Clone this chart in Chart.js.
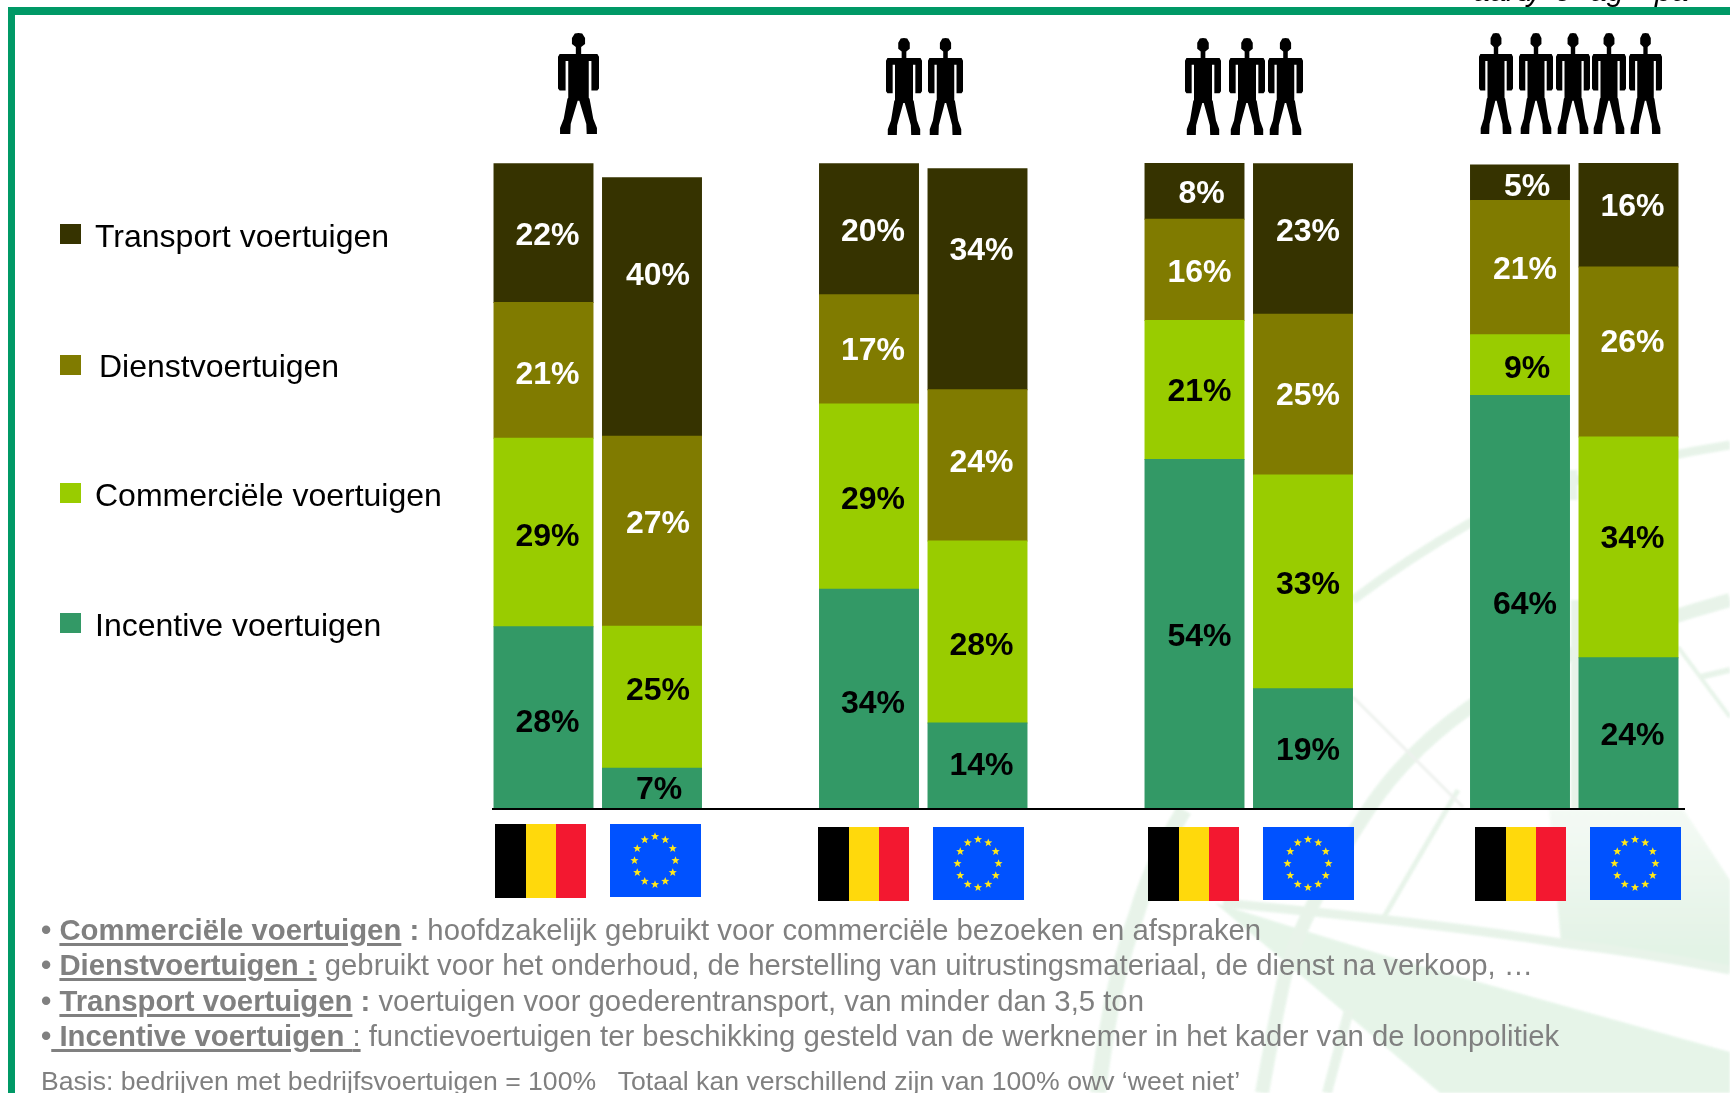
<!DOCTYPE html>
<html lang="nl"><head><meta charset="utf-8">
<style>
html,body{margin:0;padding:0;background:#fff;width:1730px;height:1093px;overflow:hidden;font-family:"Liberation Sans",Arial,sans-serif}
#wrap{position:relative;width:1730px;height:1093px;overflow:hidden}
#wm{position:absolute;left:0;top:0;filter:blur(1.2px);opacity:.85}
#c{position:absolute;left:0;top:0}
.bt,.bl{position:absolute;left:8px;top:7px;background:#009966}
.bt{width:1722px;height:8px}.bl{width:7px;height:1086px}
.lg{position:absolute;font-size:32px;line-height:36px;color:#000;white-space:nowrap}
.sw{position:absolute;width:21px;height:20px}
.n{position:absolute;left:41px;font-size:29.3px;line-height:34px;color:#808080;white-space:nowrap}
.n b.u,.n span.u{text-decoration:underline;text-decoration-thickness:3px;text-underline-offset:3px}
.cut{position:absolute;top:-24px;font-size:30px;font-style:italic;color:#000;white-space:nowrap;line-height:30px}
</style></head><body><div id="wrap">
<svg id="wm" width="1730" height="1093" fill="none" stroke="#e4f2e6" stroke-linecap="butt">
<defs><linearGradient id="fade" x1="0" y1="810" x2="0" y2="950" gradientUnits="userSpaceOnUse"><stop offset="0" stop-color="#f3faf4"/><stop offset="1" stop-color="#dff1e2"/></linearGradient></defs>
<path d="M1549 810 L1684 810 L1730 880 L1730 972 L1561 943 Z" fill="url(#fade)" stroke="none"/>
<path d="M1215 903 L1400 960 L1730 1052 L1730 1093 L1440 1093 Z" fill="#e2f3e5" stroke="none"/>
<path d="M1353 600 C1390 572 1430 546 1470 523 C1540 490 1620 462 1730 445" stroke-width="9"/>
<path d="M1730 600 C1640 625 1530 665 1470 707 C1430 735 1395 770 1370 807 C1335 860 1295 930 1284 980 C1275 1020 1268 1060 1262 1093" stroke-width="14"/>
<path d="M1184 810 C1160 850 1145 885 1137 913 C1120 960 1108 1010 1098 1093" stroke-width="16"/>
<path d="M1458 790 L1384 917" stroke-width="5"/>
<path d="M1349 1010 L1327 1093" stroke-width="10"/>
<path d="M1223 903 C1350 915 1480 930 1561 943 C1620 950 1680 960 1730 970" stroke-width="9"/>
<path d="M1353 697 L1463 807" stroke-width="3" stroke="#ebefeb"/>
<path d="M1678 647 L1730 717" stroke-width="4"/>
<path d="M1700 677 L1730 670" stroke-width="6"/>
<path d="M1575.5 600 L1575.5 809" stroke-width="9"/>
<path d="M1573 470 L1573 500" stroke-width="9"/>
</svg>
<div class="bt"></div><div class="bl"></div>
<canvas id="c" width="1730" height="1093"></canvas>
<div class="cut" style="left:1473px">aard</div><div class="cut" style="left:1527px">y</div><div class="cut" style="left:1555px">e</div><div class="cut" style="left:1590px">ag</div><div class="cut" style="left:1655px">pa</div>
<div id="legend"></div>
<div class="n" style="top:913px"><b>•</b> <b class="u">Commerciële voertuigen</b><b> :</b> hoofdzakelijk gebruikt voor commerciële bezoeken en afspraken</div>
<div class="n" style="top:948px"><b>•</b> <b class="u">Dienstvoertuigen :</b> gebruikt voor het onderhoud, de herstelling van uitrustingsmateriaal, de dienst na verkoop, …</div>
<div class="n" style="top:984px"><b>•</b> <b class="u">Transport voertuigen</b><b> :</b> voertuigen voor goederentransport, van minder dan 3,5 ton</div>
<div class="n" style="top:1019px"><b>•</b><b class="u"> Incentive voertuigen </b><span class="u">:</span> functievoertuigen ter beschikking gesteld van de werknemer in het kader van de loonpolitiek</div>
<div class="n" style="top:1064px;font-size:26.6px">Basis: bedrijven met bedrijfsvoertuigen = 100%&nbsp;&nbsp; Totaal kan verschillend zijn van 100% owv ‘weet niet’</div>
</div>
<script src="https://cdn.jsdelivr.net/npm/chart.js@4/dist/chart.umd.min.js"></script>
<script>
// Groups by company size (people icons); BE and EU bars with a blank spacer between groups.
const categories = ["1 BE","1 EU","","2 BE","2 EU","","3 BE","3 EU","","4 BE","4 EU"];
const seriesNames = ["Incentive voertuigen","Commerciële voertuigen","Dienstvoertuigen","Transport voertuigen"];
// Segment heights as drawn in the picture (% of the axis)
const incentive  = [28.2,6.3,null,34,13.3,null,54.1,18.6,null,64,23.4];
const commercial = [29.2,22,null,28.7,28.2,null,21.5,33.1,null,9.4,34.2];
const service    = [21,29.4,null,16.9,23.4,null,15.7,24.9,null,20.8,26.3];
const transport  = [21.5,40,null,20.3,34.2,null,8.7,23.3,null,5.5,16.1];
// Percentages as printed on the bars
const incentiveLabels  = ["28%","7%","","34%","14%","","54%","19%","","64%","24%"];
const commercialLabels = ["29%","25%","","29%","28%","","21%","33%","","9%","34%"];
const serviceLabels    = ["21%","27%","","17%","24%","","16%","25%","","21%","26%"];
const transportLabels  = ["22%","40%","","20%","34%","","8%","23%","","5%","16%"];
const yTicks = [0,100];

const colors = ["#339966","#99CC00","#807B00","#363300"];
const labelColors = ["#000","#000","#fff","#fff"];
const valueSets = [incentive,commercial,service,transport];
const labelSets = [incentiveLabels,commercialLabels,serviceLabels,transportLabels];
// vertical label nudges, px from segment centre
const nudge = [
 [5,2,0,5,0,0,3,2,0,3,3],
 [5,-6,0,4,14,0,2,3,0,4,-8],
 [5,-7,0,2,-2,0,3,2,0,3,-9],
 [3,-31,0,3,-28,0,3,-7,0,4,-8]];
const xNudge = [
 [4,7,0,4,4,0,5,5,0,5,4],
 [4,6,0,4,4,0,5,5,0,7,4],
 [4,6,0,4,4,0,5,5,0,5,4],
 [4,6,0,4,4,0,7,5,0,7,4]];

// HTML legend built from the series
const legendY=[236,366,495,625], legendDx=[0,4,0,0], swatchTop=[224,355,483,613];
const lg=document.getElementById('legend');
[3,2,1,0].forEach((s,i)=>{
  const sw=document.createElement('div');sw.className='sw';sw.style.cssText=`left:60px;top:${swatchTop[i]}px;background:${colors[s]}`;lg.appendChild(sw);
  const t=document.createElement('div');t.className='lg';t.textContent=seriesNames[s];t.style.cssText=`left:${95+legendDx[i]}px;top:${legendY[i]-18}px`;lg.appendChild(t);
});

function flagBE(ctx,x,y){
  const h=74;
  ctx.fillStyle='#000';ctx.fillRect(x,y,31,h);
  ctx.fillStyle='#FFD90C';ctx.fillRect(x+31,y,30,h);
  ctx.fillStyle='#F31830';ctx.fillRect(x+61,y,30,h);
}
function star(ctx,cx,cy,r){
  ctx.beginPath();
  for(let i=0;i<10;i++){const a=-Math.PI/2+i*Math.PI/5,q=i%2?r*0.42:r;ctx[i?'lineTo':'moveTo'](cx+q*Math.cos(a),cy+q*Math.sin(a));}
  ctx.closePath();ctx.fill();
}
function flagEU(ctx,x,y){
  ctx.fillStyle='#0052FF';ctx.fillRect(x,y,91,73);
  ctx.fillStyle='#FFE81A';
  for(let i=0;i<12;i++){const a=i*Math.PI/6;star(ctx,x+45+20.5*Math.sin(a),y+36.5-24*Math.cos(a),4.3);}
}
// Pictogram in a unit box: symmetric polygon, half outline from head to crotch
function person(ctx,x,y,w,h){
  const half=[[0,0],[.09,.005],[.16,.05],[.16,.11],[.065,.138],[.065,.207],[.46,.207],[.5,.235],[.5,.55],[.46,.57],[.315,.57],[.315,.276],[.25,.276],[.25,.64],[.27,.65],[.36,.85],[.45,.94],[.45,1],[.2,1],[.19,.9],[.02,.67],[0,.67]];
  const pts=[...half.map(p=>[.5+p[0],p[1]]),...half.slice().reverse().map(p=>[.5-p[0],p[1]])];
  ctx.fillStyle='#000';ctx.beginPath();
  pts.forEach((p,i)=>ctx[i?'lineTo':'moveTo'](x+p[0]*w,y+p[1]*h));
  ctx.closePath();ctx.fill();
}
const figures=[
 [[558,33,41,101]],
 [[886,38,36,97],[928,38,35,97]],
 [[1185,38,36,97],[1229,38,36,97],[1268,38,35,97]],
 [[1479,33,34,101],[1519,33,34,101],[1556,33,34,101],[1592,33,34,101],[1629,33,33,101]]];

const decor={id:'decor',afterDraw(chart){
  const ctx=chart.ctx,xs=chart.scales.x;
  ctx.save();ctx.font='bold 32px "Liberation Sans",Arial,sans-serif';ctx.textAlign='center';ctx.textBaseline='middle';
  chart.data.datasets.forEach((d,s)=>{
    chart.getDatasetMeta(s).data.forEach((el,i)=>{
      const t=labelSets[s][i];if(!t)return;
      ctx.fillStyle=labelColors[s];
      ctx.fillText(t,el.x+xNudge[s][i],(el.y+el.base)/2+nudge[s][i]);
    });
  });
  // baseline
  const y0=chart.scales.y.getPixelForValue(0);
  ctx.strokeStyle='#000';ctx.lineWidth=2;ctx.beginPath();ctx.moveTo(492,y0);ctx.lineTo(1685,y0);ctx.stroke();
  // flags below the axis, one under each bar
  [[0,-3,824],[1,3.5,824],[3,-5.5,827],[4,1,827],[6,-1,827],[7,5.5,827],[9,0.5,827],[10,6.5,827]].forEach(([i,dx,y],k)=>{
    const cx=xs.getPixelForValue(i)+dx;
    (k%2?flagEU:flagBE)(ctx,Math.round(cx-45.5),y);
  });
  figures.forEach(g=>g.forEach(f=>person(ctx,...f)));
  ctx.restore();
}};

new Chart(document.getElementById('c'),{
  type:'bar',
  data:{labels:categories,datasets:valueSets.map((v,s)=>({label:seriesNames[s],data:v,backgroundColor:colors[s],borderWidth:0,inflateAmount:0.5,barPercentage:.912,categoryPercentage:1,stack:'a'}))},
  options:{
    responsive:false,animation:false,
    layout:{padding:{left:489.25,right:47.25,top:163,bottom:284}},
    plugins:{legend:{display:false},tooltip:{enabled:false}},
    scales:{
      x:{stacked:true,display:false},
      y:{stacked:true,min:0,max:100,display:false,afterBuildTicks(a){a.ticks=yTicks.map(value=>({value}));}}
    }
  },
  plugins:[decor]
});
</script></body></html>
